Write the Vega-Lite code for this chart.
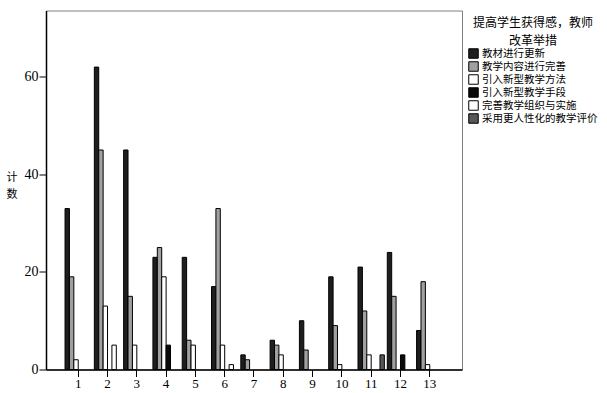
{
  "$schema": "https://vega.github.io/schema/vega-lite/v6.json",
  "width": 416,
  "height": 359,
  "autosize": "none",
  "padding": {"left": 46, "top": 10.5, "right": 145, "bottom": 23.5},
  "background": "white",
  "config": {
    "view": {"stroke": "#808080", "strokeWidth": 1},
    "font": "Liberation Serif"
  },
  "data": {
    "values": [
      {"group": 1, "series": "教材进行更新", "count": 33},
      {"group": 1, "series": "教学内容进行完善", "count": 19},
      {"group": 1, "series": "引入新型教学方法", "count": 2},
      {"group": 2, "series": "教材进行更新", "count": 62},
      {"group": 2, "series": "教学内容进行完善", "count": 45},
      {"group": 2, "series": "引入新型教学方法", "count": 13},
      {"group": 2, "series": "完善教学组织与实施", "count": 5},
      {"group": 3, "series": "教材进行更新", "count": 45},
      {"group": 3, "series": "教学内容进行完善", "count": 15},
      {"group": 3, "series": "引入新型教学方法", "count": 5},
      {"group": 4, "series": "教材进行更新", "count": 23},
      {"group": 4, "series": "教学内容进行完善", "count": 25},
      {"group": 4, "series": "引入新型教学方法", "count": 19},
      {"group": 4, "series": "引入新型教学手段", "count": 5},
      {"group": 5, "series": "教材进行更新", "count": 23},
      {"group": 5, "series": "教学内容进行完善", "count": 6},
      {"group": 5, "series": "引入新型教学方法", "count": 5},
      {"group": 6, "series": "教材进行更新", "count": 17},
      {"group": 6, "series": "教学内容进行完善", "count": 33},
      {"group": 6, "series": "引入新型教学方法", "count": 5},
      {"group": 6, "series": "完善教学组织与实施", "count": 1},
      {"group": 7, "series": "教材进行更新", "count": 3},
      {"group": 7, "series": "教学内容进行完善", "count": 2},
      {"group": 8, "series": "教材进行更新", "count": 6},
      {"group": 8, "series": "教学内容进行完善", "count": 5},
      {"group": 8, "series": "引入新型教学方法", "count": 3},
      {"group": 9, "series": "教材进行更新", "count": 10},
      {"group": 9, "series": "教学内容进行完善", "count": 4},
      {"group": 10, "series": "教材进行更新", "count": 19},
      {"group": 10, "series": "教学内容进行完善", "count": 9},
      {"group": 10, "series": "引入新型教学方法", "count": 1},
      {"group": 11, "series": "教材进行更新", "count": 21},
      {"group": 11, "series": "教学内容进行完善", "count": 12},
      {"group": 11, "series": "引入新型教学方法", "count": 3},
      {"group": 11, "series": "采用更人性化的教学评价", "count": 3},
      {"group": 12, "series": "教材进行更新", "count": 24},
      {"group": 12, "series": "教学内容进行完善", "count": 15},
      {"group": 12, "series": "引入新型教学手段", "count": 3},
      {"group": 13, "series": "教材进行更新", "count": 8},
      {"group": 13, "series": "教学内容进行完善", "count": 18},
      {"group": 13, "series": "引入新型教学方法", "count": 1}
    ]
  },
  "mark": {"type": "bar", "stroke": "black", "strokeWidth": 1},
  "encoding": {
    "x": {
      "field": "group",
      "type": "ordinal",
      "scale": {"domain": [1,2,3,4,5,6,7,8,9,10,11,12,13], "paddingInner": 0.1, "paddingOuter": 0.65},
      "axis": {
        "title": null,
        "labelAngle": 0,
        "labelFont": "Liberation Serif",
        "labelFontSize": 13,
        "labelColor": "black",
        "labelPadding": 1,
        "tickColor": "black",
        "tickSize": 7,
        "domainColor": "black",
        "domainWidth": 1.5
      }
    },
    "xOffset": {
      "field": "series",
      "type": "nominal",
      "scale": {
        "domain": ["教材进行更新", "教学内容进行完善", "引入新型教学方法", "引入新型教学手段", "完善教学组织与实施", "采用更人性化的教学评价"],
        "paddingInner": 0,
        "paddingOuter": 0
      }
    },
    "y": {
      "field": "count",
      "type": "quantitative",
      "scale": {"domain": [0, 73.6], "nice": false},
      "axis": {
        "values": [0, 20, 40, 60],
        "grid": false,
        "title": ["计", "数"],
        "titleAngle": 0,
        "titleFont": "Noto Sans CJK SC",
        "titleFontSize": 11,
        "titleFontWeight": "normal",
        "titleColor": "black",
        "titleAlign": "center",
        "titleBaseline": "top",
        "titleLineHeight": 17,
        "titleX": -34.5,
        "titleY": 161,
        "labelFont": "Liberation Serif",
        "labelFontSize": 14,
        "labelColor": "black",
        "labelPadding": 1,
        "tickColor": "black",
        "tickSize": 7,
        "domainColor": "black",
        "domainWidth": 1.5
      }
    },
    "fill": {
      "field": "series",
      "type": "nominal",
      "scale": {
        "domain": ["教材进行更新", "教学内容进行完善", "引入新型教学方法", "引入新型教学手段", "完善教学组织与实施", "采用更人性化的教学评价"],
        "range": ["#1e1e1e", "#a0a0a0", "#ffffff", "#0a0a0a", "#ffffff", "#585858"]
      },
      "legend": {
        "orient": "none",
        "legendX": 422,
        "legendY": 7.5,
        "padding": 0,
        "title": ["提高学生获得感，教师", "改革举措"],
        "titleFont": "Noto Sans CJK SC",
        "titleFontSize": 12,
        "titleFontWeight": "normal",
        "titleColor": "black",
        "titleAnchor": "middle",
        "titleAlign": "center",
        "titleLineHeight": 18,
        "titlePadding": 0,
        "labelFont": "Noto Sans CJK SC",
        "labelFontSize": 10.5,
        "labelColor": "black",
        "labelOffset": 3,
        "labelLimit": 200,
        "symbolType": "square",
        "symbolSize": 90,
        "symbolStrokeColor": "black",
        "symbolStrokeWidth": 1,
        "rowPadding": -2.2
      }
    }
  }
}
